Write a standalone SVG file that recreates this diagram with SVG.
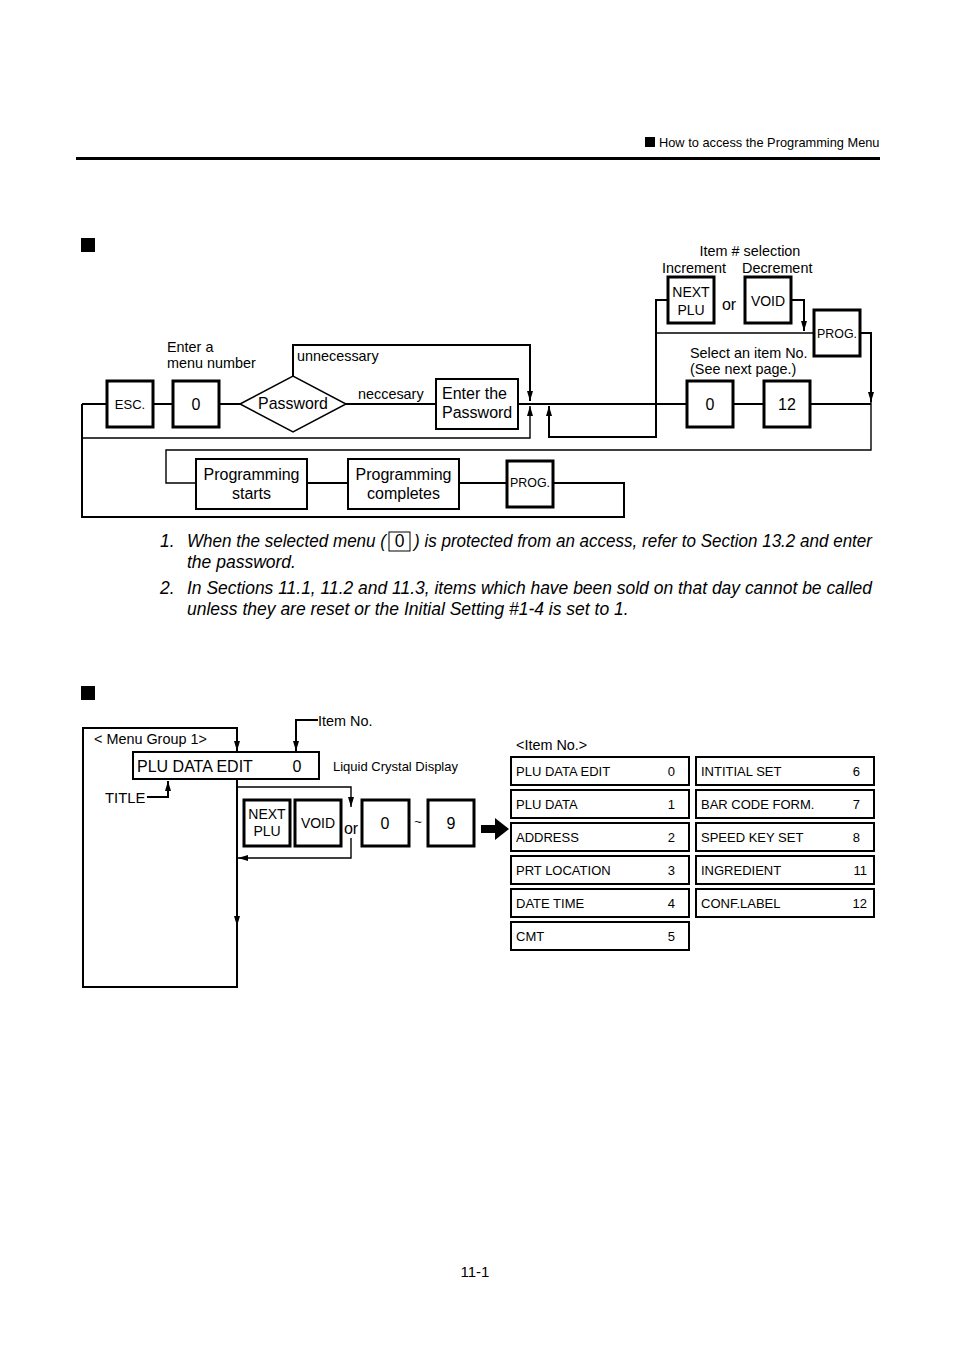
<svg xmlns="http://www.w3.org/2000/svg" width="954" height="1348" viewBox="0 0 954 1348">
<style>
text{font-family:"Liberation Sans",Arial,Helvetica,sans-serif;fill:#000}
.key{fill:#fff;stroke:#000;stroke-width:3}
.box{fill:#fff;stroke:#000;stroke-width:2}
.ln{fill:none;stroke:#000;stroke-width:2}
.th{fill:none;stroke:#000;stroke-width:1.4}
.s12{font-size:12.4px}
.s13{font-size:13px}
.s14{font-size:14px}
.s144{font-size:14.4px}
.s16{font-size:16px}
.s17{font-size:17.5px;font-style:italic}
.m{text-anchor:middle}
.e{text-anchor:end}
</style>
<defs>
<marker id="ah" markerUnits="userSpaceOnUse" viewBox="0 0 10 6" markerWidth="10" markerHeight="6" refX="10" refY="3" orient="auto"><path d="M0,0 L10,3 L0,6 Z" fill="#000"/></marker>
</defs>

<!-- header -->
<g id="header">
<rect x="645" y="137" width="10" height="10" fill="#000"/>
<text x="659" y="147" style="font-size:12.8px">How to access the Programming Menu</text>
<rect x="76" y="157" width="804" height="3" fill="#000"/>
<rect x="81" y="238" width="14" height="14" fill="#000"/>
<rect x="81" y="686" width="14" height="14" fill="#000"/>
</g>

<!-- top connectors -->
<g id="connectors-top">
<path class="ln" d="M82,404 H107 M153,404 H173 M219,404 H240 M346,404 H436 M518,404 H687 M733,404 H764 M810,404 H871"/>
<path class="ln" d="M293,376 V345 H530 V401" marker-end="url(#ah)"/>
<path class="ln" d="M82,404 V517 H624 V483 H553"/>
<path class="th" d="M82,438 H530 V406" marker-end="url(#ah)"/>
<path class="ln" d="M668,300 H656 V437 H549 V406" marker-end="url(#ah)"/>
<path class="ln" d="M791,300 H804 V331" marker-end="url(#ah)"/>
<path class="th" d="M656,333 H814"/>
<path class="ln" d="M860,333 H871 V402" marker-end="url(#ah)"/>
<path class="th" d="M871,400 V450 H166 V483 H196"/>
<path class="ln" d="M307,483 H348 M459,483 H507"/>
</g>

<!-- top nodes -->
<g id="esc"><rect class="key" x="107" y="381" width="46" height="46"/><text x="130" y="409" class="s13 m">ESC.</text></g>
<g id="menu0"><rect class="key" x="173" y="381" width="46" height="46"/><text x="196" y="410" class="s16 m">0</text></g>
<text x="167" y="352" class="s144">Enter a</text>
<text x="167" y="368" class="s144">menu number</text>
<g id="password"><polygon points="240,404 293,376 346,404 293,432" fill="#fff" stroke="#000" stroke-width="1.5"/><text x="293" y="409" class="m" style="font-size:15.9px">Password</text></g>
<text x="297" y="361" class="s144">unnecessary</text>
<text x="358" y="399" class="s144">neccesary</text>
<g id="enterpw"><rect class="box" x="436" y="379" width="82" height="50"/><text x="442" y="399" class="s16">Enter the</text><text x="442" y="418" class="s16">Password</text></g>

<text x="750" y="256" class="s144 m">Item # selection</text>
<text x="662" y="273" class="s144">Increment</text>
<text x="742" y="273" class="s144">Decrement</text>
<g id="nextplu1"><rect class="key" x="668" y="277" width="46" height="46"/><text x="691" y="297" class="s14 m">NEXT</text><text x="691" y="315" class="s14 m">PLU</text></g>
<text x="729" y="310" class="s16 m">or</text>
<g id="void1"><rect class="key" x="745" y="277" width="46" height="46"/><text x="768" y="306" class="s14 m">VOID</text></g>
<g id="prog1"><rect class="key" x="814" y="310" width="46" height="46"/><text x="837" y="338" class="s12 m">PROG.</text></g>
<text x="690" y="358" class="s144">Select an item No.</text>
<text x="690" y="374" class="s144">(See next page.)</text>
<g id="item0"><rect class="key" x="687" y="381" width="46" height="46"/><text x="710" y="410" class="s16 m">0</text></g>
<text x="748" y="408" class="s13 m">~</text>
<g id="item12"><rect class="key" x="764" y="381" width="46" height="46"/><text x="787" y="410" class="s16 m">12</text></g>

<g id="pstarts"><rect class="box" x="196" y="459" width="111" height="50"/><text x="251.5" y="480" class="s16 m">Programming</text><text x="251.5" y="499" class="s16 m">starts</text></g>
<g id="pcompletes"><rect class="box" x="348" y="459" width="111" height="50"/><text x="403.5" y="480" class="s16 m">Programming</text><text x="403.5" y="499" class="s16 m">completes</text></g>
<g id="prog2"><rect class="key" x="507" y="461" width="46" height="46"/><text x="530" y="487" class="s12 m">PROG.</text></g>

<!-- notes -->
<g id="notes">
<text x="160" y="547" class="s17">1.</text>
<text x="187" y="547" class="s17" textLength="199" lengthAdjust="spacingAndGlyphs">When the selected menu (</text>
<rect x="389" y="532" width="21" height="19" fill="none" stroke="#000" stroke-width="1"/>
<text x="399.5" y="547" class="s17 m" style="font-style:normal">0</text>
<text x="414" y="547" class="s17" textLength="458" lengthAdjust="spacingAndGlyphs">) is protected from an access, refer to Section 13.2 and enter</text>
<text x="187" y="568" class="s17">the password.</text>
<text x="160" y="594" class="s17">2.</text>
<text x="187" y="594" class="s17" textLength="685" lengthAdjust="spacingAndGlyphs">In Sections 11.1, 11.2 and 11.3, items which have been sold on that day cannot be called</text>
<text x="187" y="615" class="s17">unless they are reset or the Initial Setting #1-4 is set to 1.</text>
</g>

<!-- bottom diagram -->
<g id="menugroup"><rect class="box" x="83" y="728" width="154" height="259"/><text x="94" y="744" class="s144">&lt; Menu Group 1&gt;</text></g>
<g id="connectors-bottom">
<path class="ln" d="M237,735 V751" marker-end="url(#ah)"/>
<path class="ln" d="M237,905 V926" marker-end="url(#ah)"/>
<path class="ln" d="M318,720 H296 V751" marker-end="url(#ah)"/>
<path class="ln" d="M147,797 H168 V781" marker-end="url(#ah)"/>
<path class="th" d="M237,787 H351 V807" marker-end="url(#ah)"/>
<path class="th" d="M351,838 V858 H238" marker-end="url(#ah)"/>
<polygon points="481,825 495,825 495,818 509,829 495,840 495,833 481,833" fill="#000"/>
</g>
<g id="lcd"><rect class="box" x="133" y="752" width="186" height="27"/><text x="137" y="772" class="s16">PLU DATA EDIT</text><text x="297" y="772" class="s16 m">0</text></g>
<text x="318" y="726" class="s144">Item No.</text>
<text x="333" y="771" class="s13">Liquid Crystal Display</text>
<text x="105" y="803" style="font-size:14.8px">TITLE</text>
<g id="nextplu2"><rect class="key" x="244" y="800" width="46" height="46"/><text x="267" y="819" class="s14 m">NEXT</text><text x="267" y="836" class="s14 m">PLU</text></g>
<g id="void2"><rect class="key" x="295" y="800" width="46" height="46"/><text x="318" y="828" class="s14 m">VOID</text></g>
<text x="351" y="834" class="s16 m">or</text>
<g id="key0"><rect class="key" x="362" y="800" width="47" height="46"/><text x="385" y="829" class="s16 m">0</text></g>
<text x="418" y="826" class="s13 m">~</text>
<g id="key9"><rect class="key" x="428" y="800" width="46" height="46"/><text x="451" y="829" class="s16 m">9</text></g>

<text x="516" y="750" class="s144">&lt;Item No.&gt;</text>
<g id="table">
<g id="r0"><rect class="box" x="511" y="757" width="178" height="28"/><text x="516" y="776" class="s13">PLU DATA EDIT</text><text x="675" y="776" class="s13 e">0</text></g>
<g id="r1"><rect class="box" x="511" y="790" width="178" height="28"/><text x="516" y="809" class="s13">PLU DATA</text><text x="675" y="809" class="s13 e">1</text></g>
<g id="r2"><rect class="box" x="511" y="823" width="178" height="28"/><text x="516" y="842" class="s13">ADDRESS</text><text x="675" y="842" class="s13 e">2</text></g>
<g id="r3"><rect class="box" x="511" y="856" width="178" height="28"/><text x="516" y="875" class="s13">PRT LOCATION</text><text x="675" y="875" class="s13 e">3</text></g>
<g id="r4"><rect class="box" x="511" y="889" width="178" height="28"/><text x="516" y="908" class="s13">DATE TIME</text><text x="675" y="908" class="s13 e">4</text></g>
<g id="r5"><rect class="box" x="511" y="922" width="178" height="28"/><text x="516" y="941" class="s13">CMT</text><text x="675" y="941" class="s13 e">5</text></g>
<g id="r6"><rect class="box" x="696" y="757" width="178" height="28"/><text x="701" y="776" class="s13">INTITIAL SET</text><text x="860" y="776" class="s13 e">6</text></g>
<g id="r7"><rect class="box" x="696" y="790" width="178" height="28"/><text x="701" y="809" class="s13">BAR CODE FORM.</text><text x="860" y="809" class="s13 e">7</text></g>
<g id="r8"><rect class="box" x="696" y="823" width="178" height="28"/><text x="701" y="842" class="s13">SPEED KEY SET</text><text x="860" y="842" class="s13 e">8</text></g>
<g id="r11"><rect class="box" x="696" y="856" width="178" height="28"/><text x="701" y="875" class="s13">INGREDIENT</text><text x="867" y="875" class="s13 e">11</text></g>
<g id="r12"><rect class="box" x="696" y="889" width="178" height="28"/><text x="701" y="908" class="s13">CONF.LABEL</text><text x="867" y="908" class="s13 e">12</text></g>
</g>

<text x="475" y="1277" class="m" style="font-size:15px">11-1</text>
</svg>
